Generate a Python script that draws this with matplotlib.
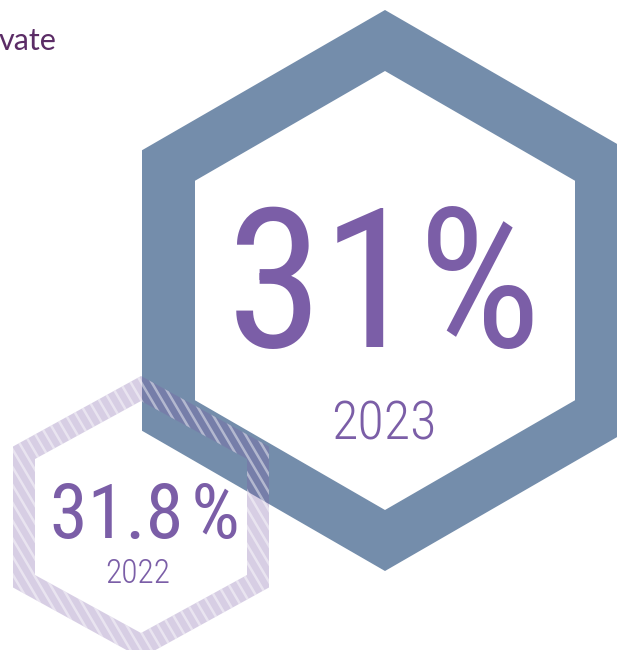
import numpy as np
import matplotlib.pyplot as plt
from matplotlib.path import Path
from matplotlib.patches import PathPatch
from matplotlib import font_manager

# data
years = ["2022", "2023"]
shares = [31.8, 31.0]          # percent
heading_tail = "vate"           # end of the cut-off heading

# colours
BLUE = "#748dab"
PURPLE = "#7b5ea7"
DARK = "#5b2c66"


def pick_font(names, fallback="DejaVu Sans"):
    have = {f.name for f in font_manager.fontManager.ttflist}
    for n in names:
        if n in have:
            return n
    return fallback


NARROW = pick_font(["Roboto Condensed", "Open Sans Condensed", "Liberation Sans Narrow"])
SANS = pick_font(["Lato", "Open Sans"])


def hex_pts(cx, cy, half_w, r):
    # pointy-top hexagon, y axis points down
    return [(cx, cy - r), (cx + half_w, cy - r / 2), (cx + half_w, cy + r / 2),
            (cx, cy + r), (cx - half_w, cy + r / 2), (cx - half_w, cy - r / 2)]


def ring_path(cx, cy, outer, inner):
    out = hex_pts(cx, cy, *outer)
    inn = hex_pts(cx, cy, *inner)[::-1]
    verts = out + [out[0]] + inn + [inn[0]]
    codes = ([Path.MOVETO] + [Path.LINETO] * 5 + [Path.CLOSEPOLY]) * 2
    return Path(verts, codes)


fig = plt.figure(figsize=(6.17, 6.5), dpi=100)
ax = fig.add_axes([0, 0, 1, 1])
ax.set_xlim(0, 617)
ax.set_ylim(650, 0)
ax.axis("off")

# big hexagon (2023)
big = PathPatch(ring_path(385, 290.5, (243, 280.5), (190, 219.5)),
                facecolor=BLUE, edgecolor="none", zorder=1)
ax.add_patch(big)

# small hexagon (2022), translucent with white stripes
small = PathPatch(ring_path(141, 517, (128, 141), (106, 116)),
                  facecolor=PURPLE, alpha=0.3, edgecolor="none", zorder=2)
ax.add_patch(small)
clip = PathPatch(ring_path(141, 517, (128, 141), (106, 116)),
                 facecolor="none", edgecolor="none")
ax.add_patch(clip)
for x0 in np.arange(-250, 400, 10.5):
    ln, = ax.plot([x0, x0 + 300 / 1.7], [360, 660], color="white",
                  lw=1.8, alpha=0.45, zorder=3, solid_capstyle="butt")
    ln.set_clip_path(clip)

# labels
labels = [f"{v:g}%" for v in shares]
ax.text(384, 347, labels[1], ha="center", va="baseline", fontsize=140,
        color=PURPLE, family=NARROW, zorder=4)
ax.text(384, 440, years[1], ha="center", va="baseline", fontsize=39,
        color=PURPLE, family=NARROW, weight="light", zorder=4)
ax.text(145, 538, labels[0].replace("%", "\u200a%"), ha="center", va="baseline",
        fontsize=55, color=PURPLE, family=[NARROW, "DejaVu Sans"], zorder=4)
ax.text(138, 583, years[0], ha="center", va="baseline", fontsize=24,
        color=PURPLE, family=NARROW, weight="light", zorder=4)

ax.text(-1, 50, heading_tail, ha="left", va="baseline", fontsize=22,
        color=DARK, family=SANS)

fig.savefig("out.png", dpi=100)
